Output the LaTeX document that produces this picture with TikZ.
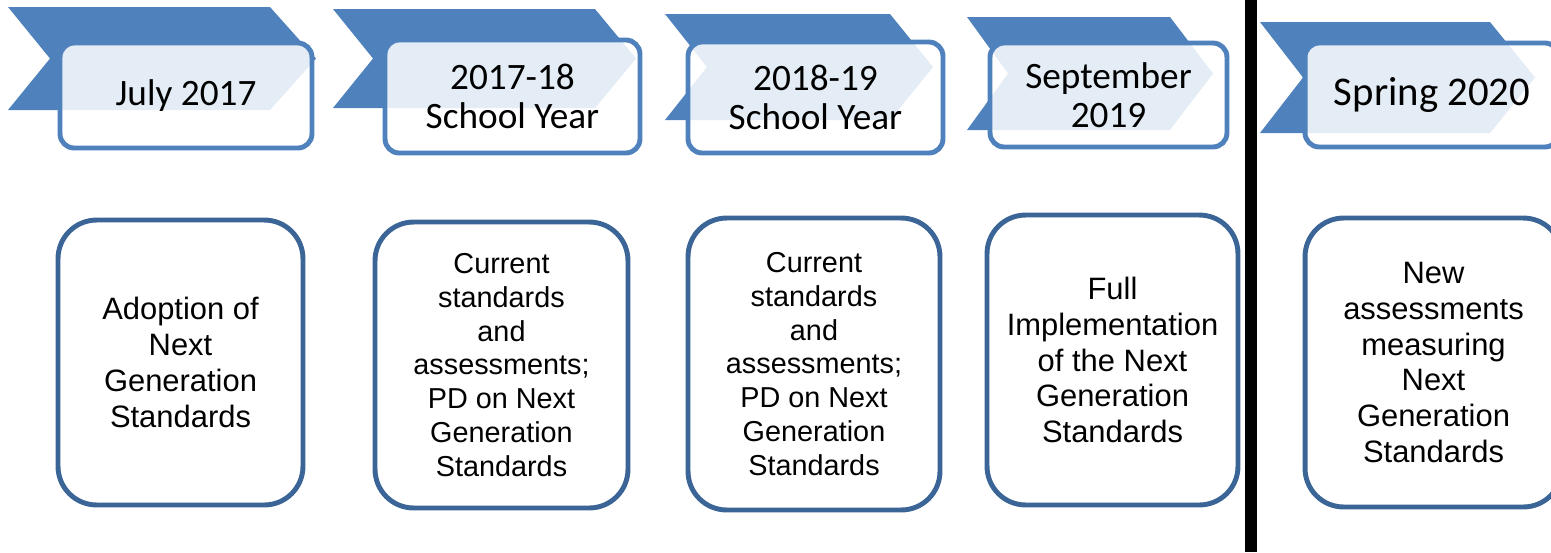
\documentclass[tikz,border=0pt]{standalone}
\usepackage{fontspec}
\setmainfont{Liberation Sans}
\newfontfamily\headfont{Carlito}
\definecolor{ribbonblue}{HTML}{4F81BD}
\definecolor{boxblue}{HTML}{3B6596}

\begin{document}
\begin{tikzpicture}[x=0.02cm, y=-0.02cm]
    % Setup the styles for the date tabs and the step boxes
    \tikzset{date box/.style={draw=ribbonblue,
                              line width=2.8pt,
                              rounded corners=8pt,
                              fill=white, fill opacity=0.85, text opacity=1,
                              align=center, inner sep=0pt,
                              font=\headfont\fontsize{21.2}{22.2}\selectfont},
             step box/.style={draw=boxblue,
                              line width=2.8pt,
                              rounded corners=22pt,
                              fill=white,
                              align=center, inner sep=0pt,
                              font=\fontsize{17.6}{20.4}\selectfont},
             small text/.style={font=\fontsize{16.4}{19.3}\selectfont}}

    \useasboundingbox (0,0) rectangle (1551,552);
    \clip (0,0) rectangle (1551,552);

    % Draw the ribbons behind the dates
    \foreach \xl/\yt/\yb/\xn/\xr/\xt in {8/7/110/50/270/316,
                                          333/9/108/373/595/636,
                                          665/14/120/707/890/933,
                                          967/17/130/1008/1170/1213,
                                          1260/22/133/1303/1490/1535}
        \fill[ribbonblue] (\xl,\yt) -- (\xr,\yt) -- (\xt,{(\yt+\yb)/2})
            -- (\xr,\yb) -- (\xl,\yb) -- (\xn,{(\yt+\yb)/2}) -- cycle;

    % Draw the dates
    \node[date box, minimum width=5.04cm, minimum height=2.1cm]  at (186,95.5)    (july)   {July 2017};
    \node[date box, minimum width=5.1cm,  minimum height=2.26cm] at (512.5,96.5)  (year1)  {2017-18\\School Year};
    \node[date box, minimum width=5.1cm,  minimum height=2.22cm] at (815.5,97.5)  (year2)  {2018-19\\School Year};
    \node[date box, minimum width=4.74cm, minimum height=2.08cm] at (1108.5,95)   (sept)   {September\\2019};
    \node[date box, minimum width=5.08cm, minimum height=2.08cm,
          font=\headfont\fontsize{23.2}{24}\selectfont]          at (1432,95)     (spring) {Spring 2020};

    % Draw the steps
    \node[step box, minimum width=4.9cm,  minimum height=5.7cm]  at (180.5,362.5) (adopt)  {Adoption of\\Next\\Generation\\Standards};
    \node[step box, small text, minimum width=5.06cm, minimum height=5.72cm] at (501.5,365) (pd1)
        {Current\\standards\\and\\assessments;\\PD on Next\\Generation\\Standards};
    \node[step box, small text, minimum width=5.04cm, minimum height=5.84cm] at (814,364) (pd2)
        {Current\\standards\\and\\assessments;\\PD on Next\\Generation\\Standards};
    \node[step box, minimum width=5.02cm, minimum height=5.8cm]  at (1112.5,360)  (full)
        {Full\\Implementation\\of the Next\\Generation\\Standards};
    \node[step box, minimum width=5.14cm, minimum height=5.78cm] at (1433.5,362.5) (assess)
        {New\\assessments\\measuring\\Next\\Generation\\Standards};

    % Separator before the new assessments
    \draw[line width=6.8pt] (1251,0) -- (1251,552);
\end{tikzpicture}
\end{document}
